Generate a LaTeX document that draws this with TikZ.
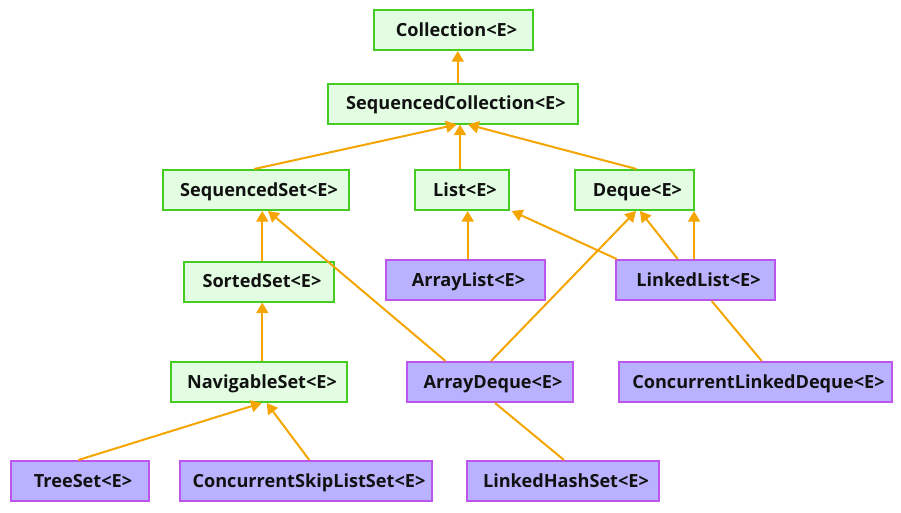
\documentclass[tikz,border=0pt]{standalone}
\usepackage{fontspec}
\setmainfont{Open Sans}
\usetikzlibrary{arrows.meta,calc}
\definecolor{ifill}{HTML}{E3FDE3}
\definecolor{idraw}{HTML}{44CC22}
\definecolor{cfill}{HTML}{B9B3FF}
\definecolor{cdraw}{HTML}{BB55EE}
\definecolor{edgec}{HTML}{F5A500}
\definecolor{txt}{HTML}{111111}
\newcommand{\lbl}[1]{\hspace*{4.5pt}#1}
\tikzset{
  box/.style={draw, line width=1.5pt, minimum height=40*0.75pt, inner sep=0pt,
    text height=9.7pt, text depth=0pt,
    font=\bfseries\fontsize{13.6}{16}\selectfont, text=txt},
  iface/.style={box, fill=ifill, draw=idraw},
  cls/.style={box, fill=cfill, draw=cdraw},
  inh/.style={draw=edgec, line width=1.5pt, -{Triangle[length=8pt,width=9pt]}},
  lnk/.style={draw=edgec, line width=1.5pt},
}
\begin{document}
\begin{tikzpicture}[x=0.75pt,y=-0.75pt]
\useasboundingbox (0,0) rectangle (901,512);
% interfaces
\node[iface, minimum width=159*0.75pt] (coll) at (453.5,30) {\lbl{Collection<E>}};
\node[iface, minimum width=250*0.75pt] (sc) at (453,103.5) {\lbl{SequencedCollection<E>}};
\node[iface, minimum width=186*0.75pt] (seqset) at (256,190) {\lbl{SequencedSet<E>}};
\node[iface, minimum width=93.5*0.75pt] (list) at (462,190) {\lbl{List<E>}};
\node[iface, minimum width=119*0.75pt] (deque) at (634.5,190) {\lbl{Deque<E>}};
\node[iface, minimum width=150*0.75pt] (sorted) at (259,281.5) {\lbl{SortedSet<E>}};
\node[iface, minimum width=176*0.75pt] (nav) at (259,382) {\lbl{NavigableSet<E>}};
% classes
\node[cls, minimum width=159*0.75pt] (alist) at (465.5,280) {\lbl{ArrayList<E>}};
\node[cls, minimum width=159*0.75pt] (llist) at (695.5,280) {\lbl{LinkedList<E>}};
\node[cls, minimum width=166.5*0.75pt] (adeque) at (490,382) {\lbl{ArrayDeque<E>}};
\node[cls, minimum width=273*0.75pt] (cld) at (755.5,382) {\lbl{ConcurrentLinkedDeque<E>}};
\node[cls, minimum width=138*0.75pt] (tree) at (80,481) {\lbl{TreeSet<E>}};
\node[cls, minimum width=252*0.75pt] (csls) at (306,481) {\lbl{ConcurrentSkipListSet<E>}};
\node[cls, minimum width=192*0.75pt] (lhs) at (563,481) {\lbl{LinkedHashSet<E>}};
% inheritance arrows
\draw[inh] ($(sc.north)+(4.8,0)$) -- ($(coll.south)+(4.3,0)$);
\draw[inh] ($(seqset.north)+(-1.7,0)$) -- ($(sc.south)+(3.7,0)$);
\draw[inh] ($(list.north)+(-2,0)$) -- ($(sc.south)+(7,0)$);
\draw[inh] ($(deque.north)+(2,0)$) -- ($(sc.south)+(15,0)$);
\draw[inh] ($(sorted.north)+(3.3,0)$) -- ($(seqset.south)+(6.3,0)$);
\draw[inh] ($(adeque.north)+(-44.5,0)$) -- ($(seqset.south)+(12,0)$);
\draw[inh] ($(alist.north)+(2.2,0)$) -- ($(list.south)+(5.7,0)$);
\draw[inh] ($(llist.north west)+(1.7,0)$) -- ($(list.south east)+(2,0)$);
\draw[inh] ($(adeque.north)+(1,0)$) -- ($(deque.south)+(1.5,0)$);
\draw[inh] ($(llist.north)+(-17.8,0)$) -- ($(deque.south)+(5.5,0)$);
\draw[inh] ($(llist.north)+(-1.5,0)$) -- ($(deque.south)+(59.5,0)$);
\draw[inh] ($(nav.north)+(3.3,0)$) -- ($(sorted.south)+(3.3,0)$);
\draw[inh] ($(tree.north)+(-1.7,0)$) -- ($(nav.south)+(2.7,0)$);
\draw[inh] ($(csls.north)+(3.3,0)$) -- ($(nav.south)+(7.7,0)$);
% plain links
\draw[lnk] ($(adeque.south)+(5,0)$) -- ($(lhs.north)+(1,0)$);
\draw[lnk] ($(llist.south)+(16.2,0)$) -- ($(cld.north)+(6.2,0)$);
\end{tikzpicture}
\end{document}
